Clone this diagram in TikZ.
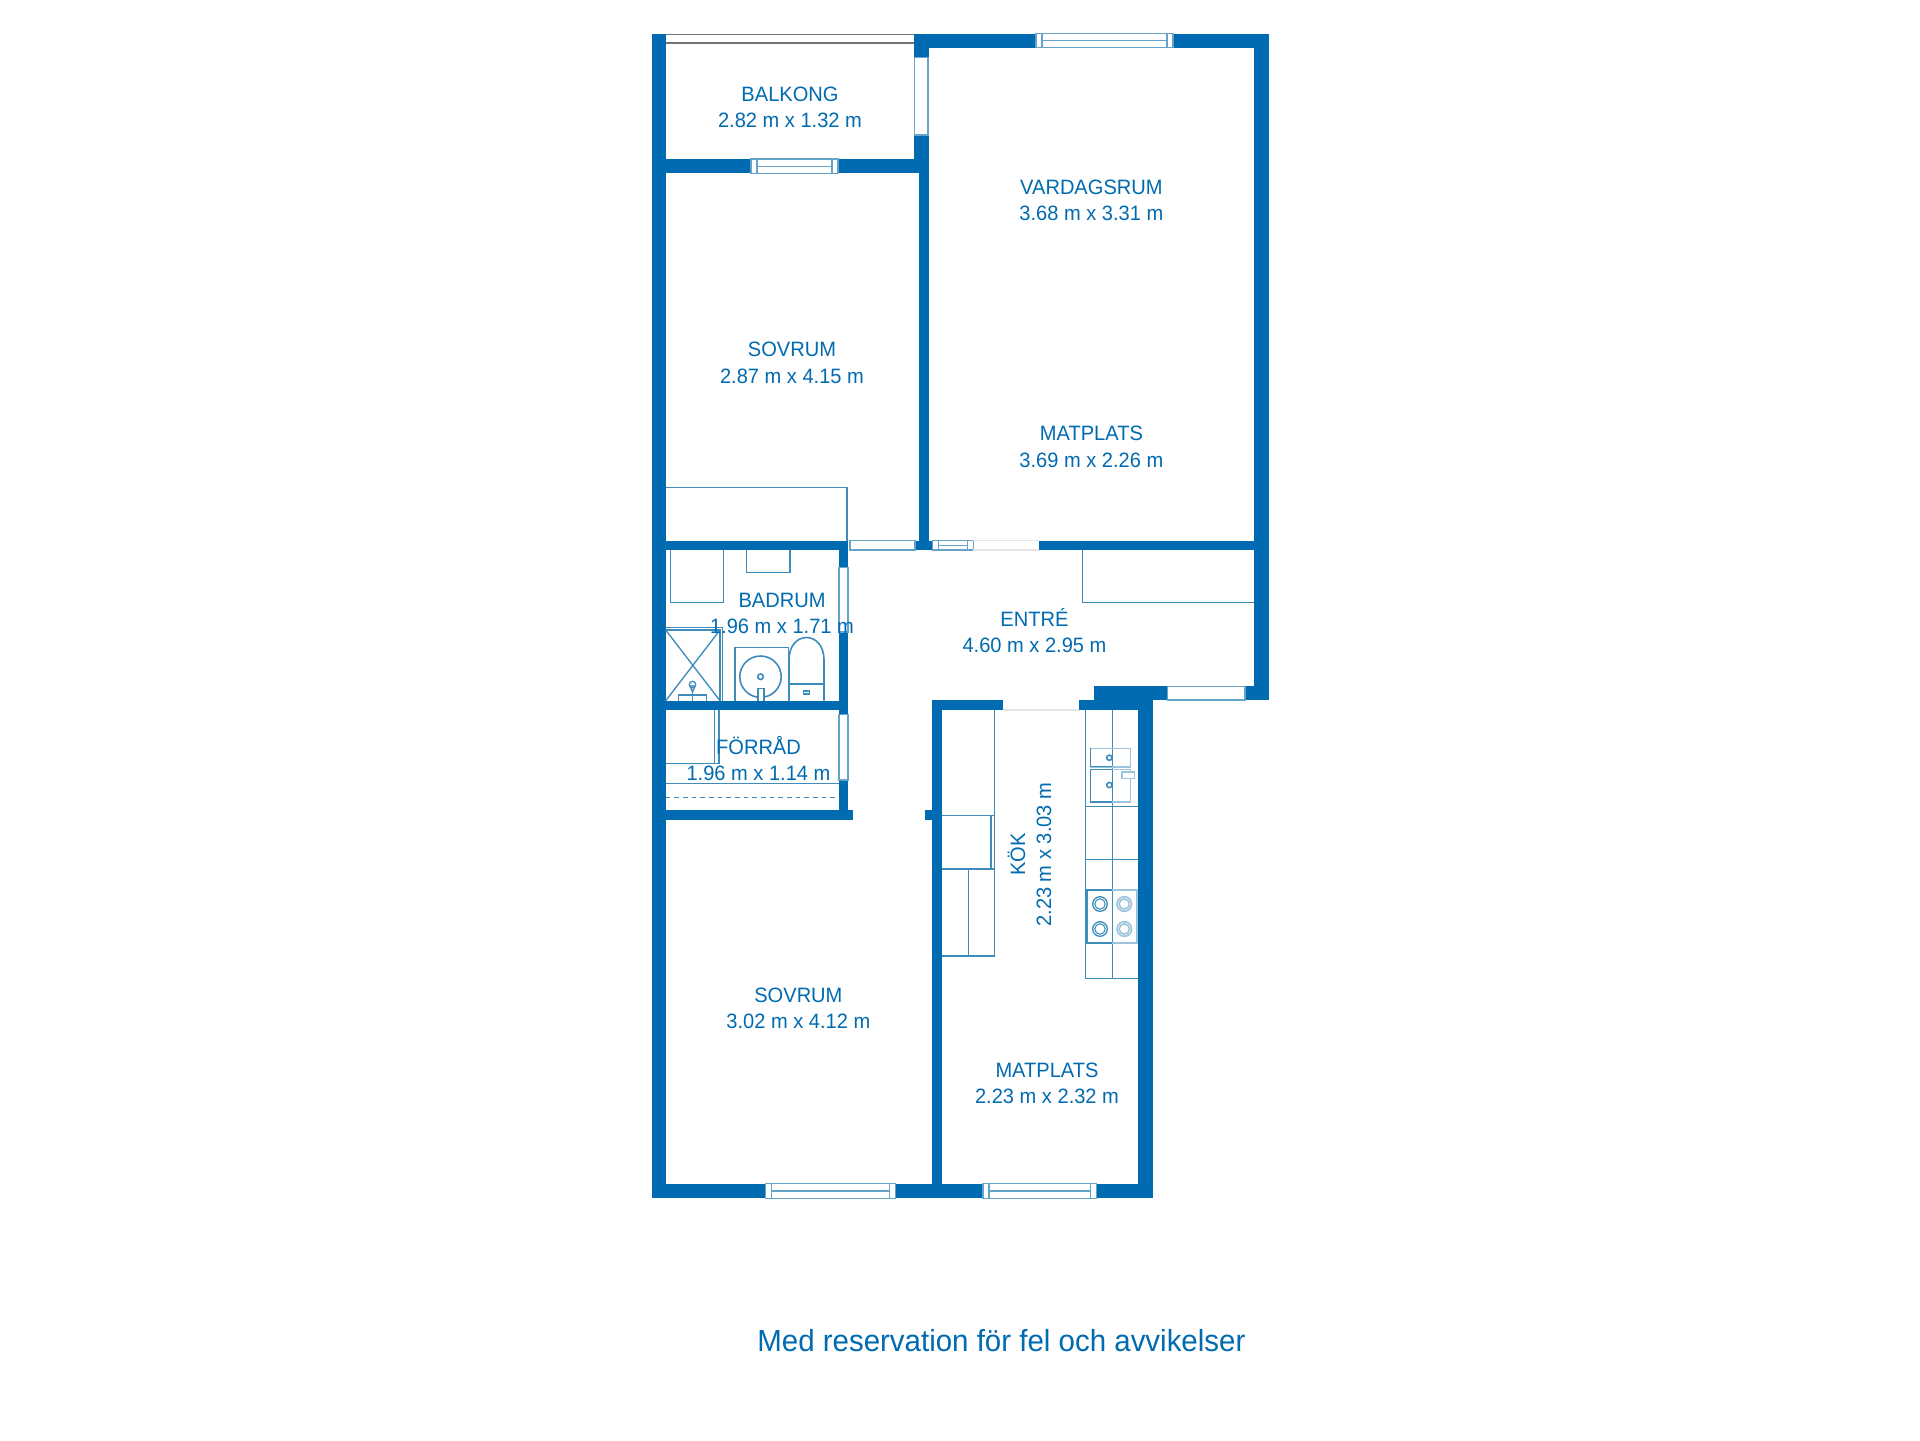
\documentclass[tikz,border=0pt]{standalone}
\usepackage{fontspec}
\setmainfont[FakeStretch=0.965]{Liberation Sans}
\usepackage{tikz}
\definecolor{planblue}{HTML}{006BB0}
\definecolor{thinblue}{HTML}{3E8CBB}
\definecolor{paleblue}{HTML}{9CC4DC}
\tikzset{
  wall/.style={fill=planblue,draw=none},
  furn/.style={draw=thinblue,line width=1pt},
  fixture/.style={draw=thinblue,line width=1.2pt},
  pale/.style={draw=paleblue,line width=1.2pt},
  pane/.style={fill=white,draw=thinblue!80,line width=0.9pt},
  doorgap/.style={draw=black!10,line width=0.8pt},
  roomlabel/.style={text=planblue,font=\fontsize{15.6}{19.6}\selectfont,align=center,inner sep=0pt},
}
\begin{document}
\begin{tikzpicture}[x=0.75pt,y=-0.75pt]
\useasboundingbox (0,0) rectangle (1920,1440);
\fill[white] (0,0) rectangle (1920,1440);
\fill[wall] (651.5,33.7) rectangle (665.7,1198.3);
\fill[wall] (914.3,33.7) rectangle (1269,47.7);
\fill[wall] (1254.3,33.7) rectangle (1269,700);
\fill[wall] (914.3,33.7) rectangle (928.6,173.3);
\fill[wall] (665.7,159) rectangle (928.6,173.3);
\fill[wall] (919.2,173.3) rectangle (928.6,550);
\fill[wall] (665.7,540.7) rectangle (848.3,550);
\fill[wall] (915,540.7) rectangle (932.3,550);
\fill[wall] (1039,540.7) rectangle (1254.3,550);
\fill[wall] (838.7,540.7) rectangle (848.3,820);
\fill[wall] (665.7,700.7) rectangle (838.7,710);
\fill[wall] (665.7,810) rectangle (852.7,820);
\fill[wall] (932.3,700.3) rectangle (941.7,1198.3);
\fill[wall] (925.3,810.3) rectangle (932.3,820);
\fill[wall] (932.3,700.3) rectangle (1002.7,710);
\fill[wall] (1078.7,700.3) rectangle (1138.3,710);
\fill[wall] (1093.7,686) rectangle (1269,700);
\fill[wall] (1138.3,700) rectangle (1152.7,1198.3);
\fill[wall] (651.5,1183.7) rectangle (1152.7,1198.3);
\draw[black!55,line width=1.2pt] (665.7,34.3) -- (914.3,34.3);
\draw[black!55,line width=1.2pt] (665.7,42.7) -- (914.3,42.7);
\fill[white] (665.7,35) rectangle (914.3,42);
\foreach \xa/\xb/\ya/\yb in {1036/1173/33.7/47.7,751/838/159/173.3,765.3/895.5/1183.7/1198.3,982.9/1096.3/1183.7/1198.3,932.3/973.3/540.7/550}{
  \draw[pane] (\xa,\ya) rectangle (\xb,\yb);
  \draw[pane] (\xa+6,\ya) -- (\xa+6,\yb);
  \draw[pane] (\xb-6,\ya) -- (\xb-6,\yb);
  \draw[pane] (\xa+6,{(\ya+\yb)/2}) -- (\xb-6,{(\ya+\yb)/2});
}
\draw[pane] (850,540.7) rectangle (915,550);
\draw[pane] (1167.7,686.7) rectangle (1245,700);
\draw[pane] (914.8,57.3) rectangle (928,135);
\draw[pane] (839,567.3) rectangle (848,632);
\draw[pane] (839,714.3) rectangle (848,780);
\draw[doorgap] (973.3,540.7) -- (1039,540.7);
\draw[doorgap] (973.3,550) -- (1039,550);
\draw[doorgap] (1002.7,710) -- (1078.7,710);
\draw[furn] (665.7,487.3) -- (847,487.3) -- (847,540.7);
\draw[furn] (1082.3,550) -- (1082.3,602.7) -- (1254.3,602.7);
\draw[furn] (670.7,550) -- (670.7,602.3) -- (723.7,602.3) -- (723.7,550);
\draw[furn] (746.7,550) -- (746.7,572.3) -- (790,572.3) -- (790,550);
\draw[furn] (665.7,627.3) -- (722.7,627.3) -- (722.7,700.7);
\draw[furn] (665.7,630) -- (720,630) -- (720,700.7);
\draw[furn] (665.7,630) -- (720,700.7);
\draw[furn] (720,630) -- (665.7,700.7);
\draw[furn] (692.5,692) -- (692.5,700.7);
\draw[furn] (690,686) -- (692.5,692) -- (695,686) -- cycle;
\draw[furn] (692.5,684.5) circle (3.2);
\draw[furn] (678.3,700.7) -- (678.3,695) -- (706.7,695) -- (706.7,700.7);
\draw[fixture] (735,700.7) -- (735,647.3) -- (788.3,647.3) -- (788.3,700.7);
\draw[fixture] (760.5,676.7) circle (20.7);
\draw[fixture,fill=white] (758,700.7) -- (758,688.3) -- (763.7,688.3) -- (763.7,700.7);
\draw[fixture] (760.5,676.7) circle (2.8);
\draw[fixture] (789,700.7) -- (789,660) .. controls (789,630) and (824,630) .. (824,660) -- (824,700.7);
\draw[fixture] (789,684) -- (824,684);
\draw[fixture] (803.5,691) rectangle (809.5,694);
\draw[furn] (665.7,763.3) -- (719,763.3) -- (719,710);
\draw[furn] (714.7,710) -- (714.7,763.3);
\draw[furn] (665.7,783.7) -- (838.7,783.7);
\draw[draw=thinblue,line width=0.7pt,dash pattern=on 3.5pt off 3pt] (665.7,797) -- (838.7,797);
\draw[furn] (994.7,710) -- (994.7,956) -- (941.7,956);
\draw[furn] (941.7,815.7) -- (994.7,815.7);
\draw[furn] (941.7,869) -- (994.7,869);
\draw[furn] (991,815.7) -- (991,869);
\draw[furn] (968.3,869) -- (968.3,956);
\draw[furn] (1085.7,710) -- (1085.7,978.3) -- (1138.3,978.3);
\draw[furn] (1112.3,710) -- (1112.3,978.3);
\draw[furn] (1085.7,806.3) -- (1138.3,806.3);
\draw[furn] (1085.7,859.3) -- (1138.3,859.3);
\draw[pale] (1090.3,748.3) rectangle (1130.3,766.7);
\draw[pale] (1090.3,769.3) rectangle (1130.3,802);
\draw[furn] (1090.3,766.7) -- (1112.3,766.7) (1090.3,748.3) -- (1090.3,766.7);
\draw[furn] (1112.3,769.3) -- (1090.3,769.3) -- (1090.3,802) -- (1112.3,802);
\draw[fixture,fill=white] (1109.3,757.7) circle (2.6);
\draw[fixture,fill=white] (1109.3,785) circle (2.6);
\draw[pale,fill=white] (1121.7,772) rectangle (1134.3,778.3);
\draw[pale,line width=1.6pt] (1112.3,890) -- (1137.3,890) -- (1137.3,943.3) -- (1112.3,943.3);
\draw[thinblue,line width=1.4pt] (1112.3,890) -- (1086.8,890) -- (1086.8,943.3) -- (1112.3,943.3);
\foreach \yb in {904,929}{
  \draw[fixture,line width=1pt] (1100,\yb) circle (7.3);
  \draw[fixture,line width=0.8pt] (1100,\yb) circle (5.2);
  \draw[pale] (1124.3,\yb) circle (7.3);
  \draw[pale] (1124.3,\yb) circle (5.2);
}
\node[roomlabel] (balkong) at (790,107.2) {BALKONG\\2.82 m x 1.32 m};
\node[roomlabel] (vardagsrum) at (1091.4,200) {VARDAGSRUM\\3.68 m x 3.31 m};
\node[roomlabel] (matplatsa) at (1091.4,446.8) {MATPLATS\\3.69 m x 2.26 m};
\node[roomlabel] (sovruma) at (792,362.8) {SOVRUM\\2.87 m x 4.15 m};
\node[roomlabel] (badrum) at (782,613.7) {BADRUM\\1.96 m x 1.71 m};
\node[roomlabel] (forrad) at (758.5,758.5) {FÖRRÅD\\1.96 m x 1.14 m};
\node[roomlabel] (entre) at (1034.5,631) {ENTRÉ\\4.60 m x 2.95 m};
\node[roomlabel,rotate=90] (kok) at (1029.5,854.7) {KÖK\\2.23 m x 3.03 m};
\node[roomlabel] (matplatsb) at (1047,1083) {MATPLATS\\2.23 m x 2.32 m};
\node[roomlabel] (sovrumb) at (798.4,1008.2) {SOVRUM\\3.02 m x 4.12 m};
\node[text=planblue,font=\fontsize{22.9}{26}\selectfont,inner sep=0pt] (disclaimer) at (1001.4,1341) {Med reservation för fel och avvikelser};
\end{tikzpicture}
\end{document}
